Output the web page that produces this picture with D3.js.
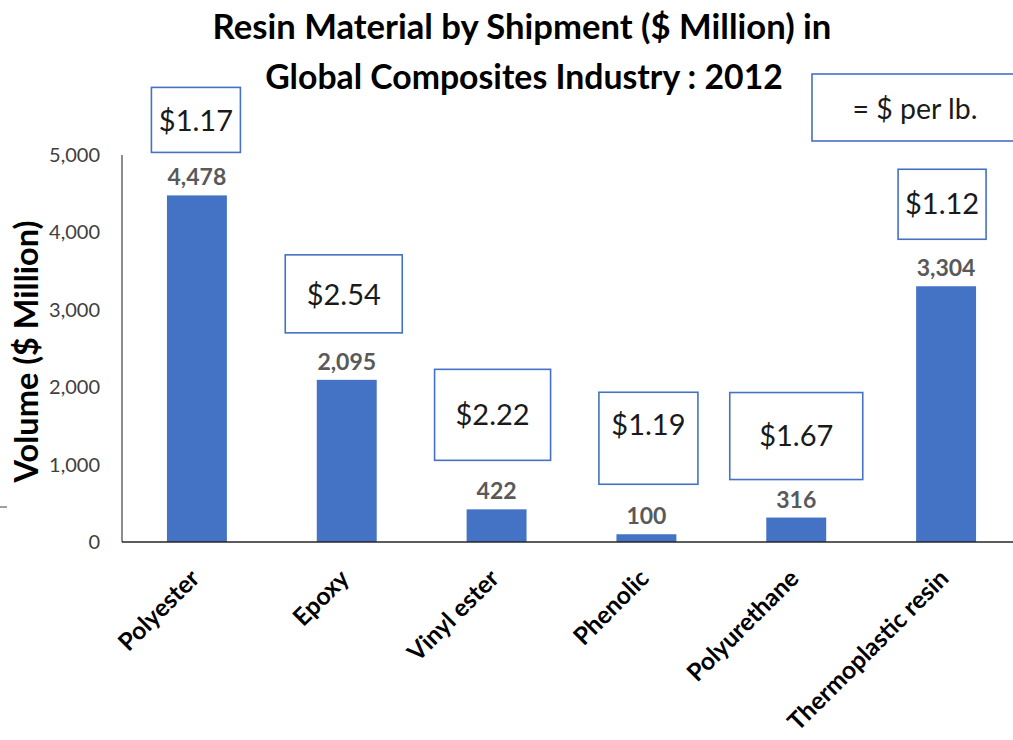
<!DOCTYPE html>
<html>
<head>
<meta charset="utf-8">
<script src="https://cdn.jsdelivr.net/npm/d3@7"></script>
<style>
  html, body { margin: 0; padding: 0; background: #fff; }
  svg { display: block; font-family: Lato, "Open Sans", sans-serif; }
</style>
</head>
<body>
<svg id="chart" width="1013" height="740"></svg>
<script>
// Resin shipments by material type, 2012
const categories = ["Polyester", "Epoxy", "Vinyl ester", "Phenolic", "Polyurethane", "Thermoplastic resin"];
const volumes = [4478, 2095, 422, 100, 316, 3304];          // $ million
const pricePerLb = [1.17, 2.54, 2.22, 1.19, 1.67, 1.12];     // $ per lb.
const yTicks = [0, 1000, 2000, 3000, 4000, 5000];
const titleLines = ["Resin Material by Shipment ($ Million) in", "Global Composites Industry : 2012"];
const yAxisTitle = "Volume ($ Million)";
const legendText = "= $ per lb.";

// Placement of the price callouts: horizontal shift from bar centre,
// gap above the bar top, box width/height, and text offset from box top.
const calloutLayout = [
  { dx: -1, gap: 43, w: 89,  h: 65, ty: 33 },
  { dx: -3, gap: 47, w: 117, h: 78, ty: 40 },
  { dx: -4, gap: 49, w: 116, h: 91, ty: 46 },
  { dx: 2,  gap: 50, w: 99,  h: 92, ty: 33 },
  { dx: 0,  gap: 38, w: 133, h: 87, ty: 43 },
  { dx: -4, gap: 47, w: 88,  h: 70, ty: 35 }
];

const BLUE = "#4472C4";
const svg = d3.select("#chart");

const x = d3.scaleBand()
  .domain(categories)
  .range([122, 1021])
  .paddingInner(0.6)
  .paddingOuter(0.3);

const y = d3.scaleLinear()
  .domain([0, 5000])
  .range([542, 155]);

// Scale a text element's font size so it spans the given width
function fitWidth(sel, width) {
  sel.each(function () {
    const fs = parseFloat(this.getAttribute("font-size"));
    const len = this.getComputedTextLength();
    this.setAttribute("font-size", (fs * width / len).toFixed(2));
  });
}

// Title
const title = svg.append("g").attr("class", "title");
title.append("text")
  .attr("x", 522).attr("y", 39)
  .attr("text-anchor", "middle")
  .attr("font-weight", 700).attr("font-size", 30).attr("fill", "#000")
  .text(titleLines[0])
  .call(fitWidth, 619);
title.append("text")
  .attr("x", 524).attr("y", 89)
  .attr("text-anchor", "middle")
  .attr("font-weight", 700).attr("font-size", 30).attr("fill", "#000")
  .text(titleLines[1])
  .call(fitWidth, 518);

// Y axis
const yAxis = svg.append("g")
  .attr("transform", "translate(122,0)")
  .call(d3.axisLeft(y).tickValues(yTicks).tickFormat(d3.format(",")).tickSize(0).tickPadding(22));
yAxis.select(".domain").attr("stroke", "#404040").attr("stroke-width", 1.2)
  .attr("d", `M0,${y(5000)}V${y(0)}`);
yAxis.selectAll(".tick text")
  .attr("font-family", "Lato, sans-serif")
  .attr("font-size", 20).attr("fill", "#404040");

// Y axis title
svg.append("text")
  .attr("transform", `translate(38,${(220 + 483) / 2}) rotate(-90)`)
  .attr("text-anchor", "middle")
  .attr("font-weight", 700).attr("font-size", 22).attr("fill", "#000")
  .text(yAxisTitle)
  .call(fitWidth, 262);

// Stray tick at the left edge
svg.append("line")
  .attr("x1", 0).attr("x2", 7).attr("y1", 507).attr("y2", 507)
  .attr("stroke", "#404040").attr("stroke-width", 1);

// Bars
svg.append("g").selectAll("rect")
  .data(categories)
  .join("rect")
  .attr("x", d => x(d))
  .attr("width", x.bandwidth())
  .attr("y", (d, i) => y(volumes[i]))
  .attr("height", (d, i) => y(0) - y(volumes[i]))
  .attr("fill", BLUE);

// X axis line
svg.append("line")
  .attr("x1", 122).attr("x2", 1013)
  .attr("y1", y(0)).attr("y2", y(0))
  .attr("stroke", "#262626").attr("stroke-width", 1.6);

// Category labels, rotated
const xl = svg.append("g").selectAll("text")
  .data(categories)
  .join("text")
  .attr("transform", d => `translate(${x(d) + x.bandwidth() / 2 + 4},580) rotate(-45)`)
  .attr("text-anchor", "end")
  .attr("font-weight", 700).attr("font-size", 22).attr("fill", "#000")
  .text(d => d);
// size all labels alike, set by the longest one
{
  const longest = xl.filter(d => d === "Thermoplastic resin").node();
  const fs = 22 * 215 / longest.getComputedTextLength();
  xl.attr("font-size", fs.toFixed(2));
}

// Value labels
svg.append("g").selectAll("text")
  .data(categories)
  .join("text")
  .attr("x", d => x(d) + x.bandwidth() / 2)
  .attr("y", (d, i) => y(volumes[i]) - 10)
  .attr("text-anchor", "middle")
  .attr("font-weight", 700).attr("font-size", 23).attr("fill", "#595959")
  .text((d, i) => d3.format(",")(volumes[i]));

// Price-per-lb callouts
const fmtPrice = d3.format("$.2f");
const callouts = svg.append("g").selectAll("g")
  .data(categories)
  .join("g")
  .attr("transform", (d, i) => {
    const c = calloutLayout[i];
    const cx = x(d) + x.bandwidth() / 2 + c.dx;
    const top = y(volumes[i]) - c.gap - c.h;
    return `translate(${cx - c.w / 2},${top})`;
  });
callouts.append("rect")
  .attr("width", (d, i) => calloutLayout[i].w)
  .attr("height", (d, i) => calloutLayout[i].h)
  .attr("fill", "#fff")
  .attr("stroke", BLUE).attr("stroke-width", 1.6);
callouts.append("text")
  .attr("x", (d, i) => calloutLayout[i].w / 2)
  .attr("y", (d, i) => calloutLayout[i].ty)
  .attr("dy", "0.35em")
  .attr("text-anchor", "middle")
  .attr("font-size", 29).attr("fill", "#1a1a1a")
  .text((d, i) => fmtPrice(pricePerLb[i]));

// Legend box
const legend = svg.append("g").attr("transform", "translate(812,74)");
legend.append("rect")
  .attr("width", 220).attr("height", 67)
  .attr("fill", "#fff")
  .attr("stroke", BLUE).attr("stroke-width", 1.6);
legend.append("text")
  .attr("x", 103).attr("y", 35).attr("dy", "0.35em")
  .attr("text-anchor", "middle")
  .attr("font-size", 24).attr("fill", "#1a1a1a")
  .text(legendText)
  .call(fitWidth, 125);
</script>
</body>
</html>
